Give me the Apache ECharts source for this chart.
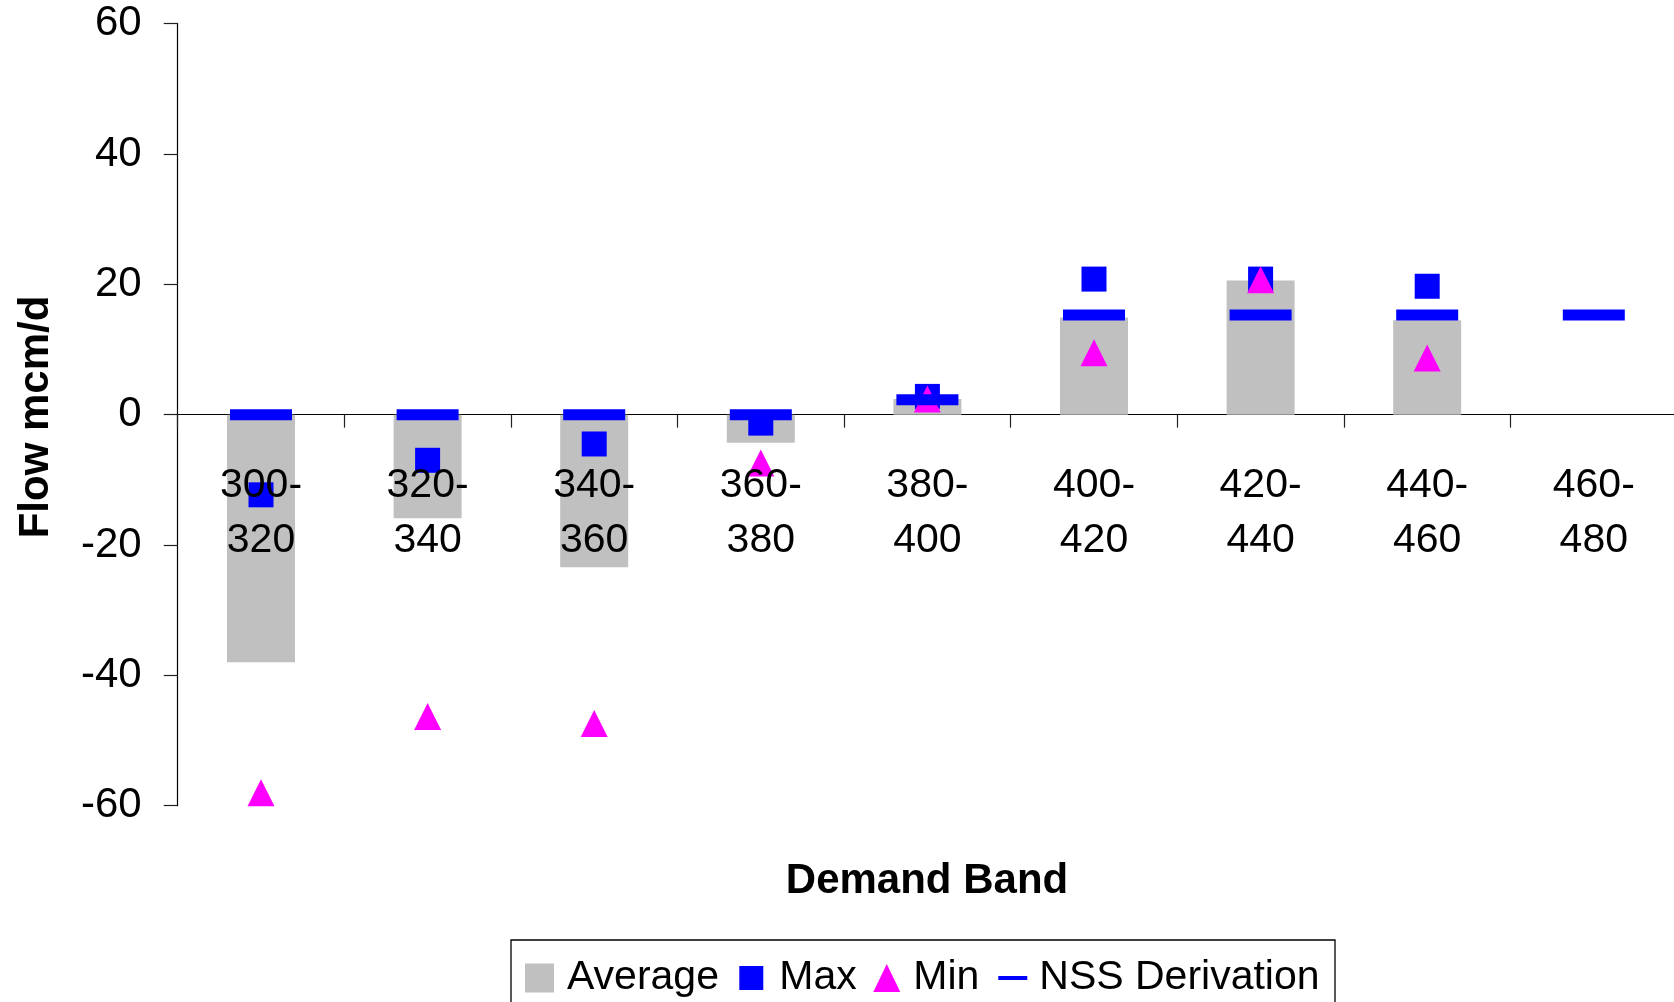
<!DOCTYPE html>
<html>
<head>
<meta charset="utf-8">
<script src="https://cdn.jsdelivr.net/npm/echarts@6/dist/echarts.min.js"></script>
<style>
html,body{margin:0;padding:0;background:#ffffff;}
#chart{width:1674px;height:1002px;}
</style>
</head>
<body>
<div id="chart"></div>
<script>
// ---- data ----
const categories = ['300-\n320','320-\n340','340-\n360','360-\n380','380-\n400','400-\n420','420-\n440','440-\n460','460-\n480'];
const averageValues = [-38.0, -15.9, -23.4, -4.3, 2.4, 14.9, 20.6, 14.5, null];
const maxValues     = [-12.3, -7.0, -4.5, -1.3, 2.8, 20.8, 20.8, 19.7, null];
const minValues     = [-58.0, -46.3, -47.4, -7.4, 2.4, 9.5, 20.7, 8.7, null];
const nssValues     = [0, 0, 0, 0, 2.3, 15.3, 15.3, 15.3, 15.3];
const yMin = -60, yMax = 60, yInterval = 20;
const seriesNames = ['Average', 'Max', 'Min', 'NSS Derivation'];
const xTitle = 'Demand Band';
const yTitle = 'Flow mcm/d';

const FONT = '"Liberation Sans", Arial, Helvetica, sans-serif';
const toData = arr => arr.map(v => (v === null ? '-' : v));

const GRID = {left: 177.7, top: 23.6, width: 1499.4, height: 782.1};
// distance from grid bottom up to the value-zero line (label axis is lifted there)
const zeroLift = GRID.height * (0 - yMin) / (yMax - yMin);

const chart = echarts.init(document.getElementById('chart'), null, {renderer: 'canvas'});

const legendBase = {
  orient: 'horizontal',
  top: 956,
  padding: 0,
  selectedMode: false,
  textStyle: {fontFamily: FONT, fontSize: 41, color: '#000', lineHeight: 44}
};

const option = {
  animation: false,
  backgroundColor: '#ffffff',
  grid: Object.assign({containLabel: false, outerBoundsMode: 'none'}, GRID),
  xAxis: [
    {
      type: 'category',
      data: categories,
      position: 'bottom',
      offset: -zeroLift,
      z: 10,
      axisLine: {show: false, onZero: false},
      axisTick: {show: false},
      splitLine: {show: false},
      axisLabel: {interval: 0, margin: 44, fontFamily: FONT, fontSize: 41, color: '#000', lineHeight: 55}
    },
    {
      type: 'category',
      data: categories,
      position: 'bottom',
      z: 0,
      axisLine: {show: true, onZero: true, onZeroAxisIndex: 0, lineStyle: {color: '#000', width: 1.2}},
      axisTick: {show: true, length: 13, lineStyle: {color: '#222', width: 1.2}},
      axisLabel: {show: false},
      splitLine: {show: false}
    }
  ],
  yAxis: {
    type: 'value',
    min: yMin, max: yMax, interval: yInterval,
    axisLine: {show: true, onZero: false, lineStyle: {color: '#000', width: 1.2}},
    axisTick: {show: true, length: 14, lineStyle: {color: '#222', width: 1.2}},
    splitLine: {show: false},
    axisLabel: {margin: 36, fontFamily: FONT, fontSize: 42, color: '#000', padding: [8, 0, 0, 0]}
  },
  legend: [
    Object.assign({}, legendBase, {data: [{name: seriesNames[0], icon: 'rect'}], left: 525, itemWidth: 29, itemHeight: 29,
      textStyle: Object.assign({}, legendBase.textStyle, {padding: [0, 0, 0, 8]})}),
    Object.assign({}, legendBase, {data: [{name: seriesNames[1], icon: 'rect'}], left: 739.3, itemWidth: 24, itemHeight: 24,
      textStyle: Object.assign({}, legendBase.textStyle, {padding: [0, 0, 0, 11]})}),
    Object.assign({}, legendBase, {data: [{name: seriesNames[2], icon: 'triangle'}], left: 873.3, itemWidth: 27, itemHeight: 28,
      textStyle: Object.assign({}, legendBase.textStyle, {padding: [0, 0, 0, 8]})}),
    Object.assign({}, legendBase, {data: [{name: seriesNames[3], icon: 'rect'}], left: 998.3, itemWidth: 29, itemHeight: 4,
      textStyle: Object.assign({}, legendBase.textStyle, {padding: [0, 0, 0, 7]})})
  ],
  graphic: [
    {type: 'rect', shape: {x: 511, y: 940, width: 824, height: 90},
     style: {fill: 'none', stroke: '#000', lineWidth: 1.3}, silent: true, z: 100},
    {type: 'text', x: 927, y: 881,
     style: {text: xTitle, font: 'bold 42px ' + FONT, fill: '#000', textAlign: 'center', textVerticalAlign: 'middle'}},
    {type: 'text', x: 36, y: 417, rotation: Math.PI / 2,
     style: {text: yTitle, font: 'bold 42px ' + FONT, fill: '#000', textAlign: 'center', textVerticalAlign: 'middle'}}
  ],
  series: [
    {
      name: seriesNames[0], type: 'bar', xAxisIndex: 0,
      data: toData(averageValues), barWidth: 68,
      itemStyle: {color: '#C0C0C0'}
    },
    {
      name: seriesNames[1], type: 'scatter', xAxisIndex: 0,
      data: toData(maxValues), symbol: 'rect', symbolSize: 25,
      itemStyle: {color: '#0000FF', opacity: 1}
    },
    {
      name: seriesNames[2], type: 'scatter', xAxisIndex: 0,
      data: toData(minValues), symbol: 'triangle', symbolSize: [27, 27],
      itemStyle: {color: '#FF00FF', opacity: 1}
    },
    {
      name: seriesNames[3], type: 'scatter', xAxisIndex: 0,
      data: toData(nssValues), symbol: 'rect', symbolSize: [62, 11],
      itemStyle: {color: '#0000FF', opacity: 1}
    }
  ]
};
chart.setOption(option);
</script>
</body>
</html>
